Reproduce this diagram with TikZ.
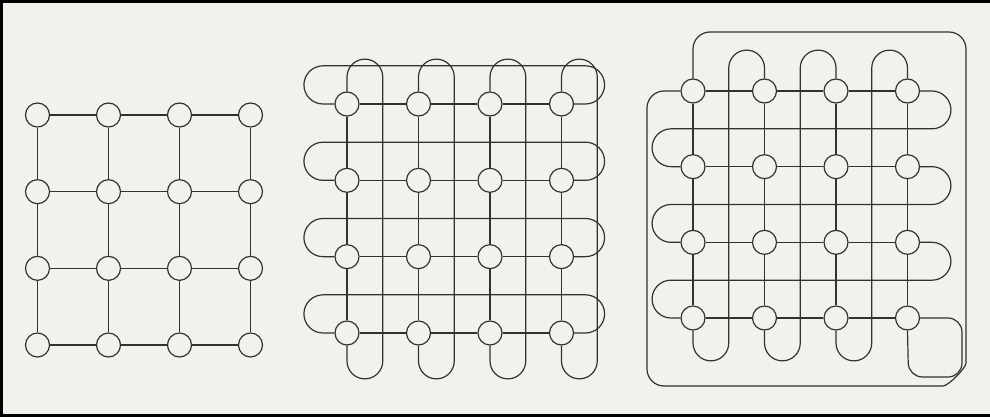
\documentclass[tikz,border=0pt]{standalone}
\definecolor{paper}{RGB}{243,241,238}
\definecolor{ink}{RGB}{50,50,50}
\tikzset{
  pe/.style={circle, draw=ink, fill=paper, line width=1.2pt, minimum size=24pt, inner sep=0pt},
  wire/.style={draw=ink, line width=1.2pt},
}
\begin{document}
\begin{tikzpicture}[x=1pt,y=-1pt]
\fill[paper] (0,0) rectangle (990,417);
\useasboundingbox (0,0) rectangle (990,417);
\draw[black, line width=3pt] (990,1.5) -- (1.5,1.5) -- (1.5,415.5) -- (990,415.5);

% ---------- mesh 1 : plain 4x4 mesh ----------
\foreach \r in {1,...,4} \foreach \c in {1,...,4}
  \node[pe] (a\r\c) at ({37.5+(\c-1)*71},{115+(\r-1)*76.67}) {};
\foreach \r in {1,...,4} \foreach \c/\d in {1/2,2/3,3/4} {
  \draw[wire] (a\r\c) -- (a\r\d);
  \draw[wire] (a\c\r) -- (a\d\r);
}

% ---------- mesh 2 : torus ----------
\foreach \r in {1,...,4} \foreach \c in {1,...,4}
  \node[pe] (b\r\c) at ({347+(\c-1)*71.5},{104+(\r-1)*76.33}) {};
\foreach \r in {1,...,4} \foreach \c/\d in {1/2,2/3,3/4} {
  \draw[wire] (b\r\c) -- (b\r\d);
  \draw[wire] (b\c\r) -- (b\d\r);
}
\foreach \c in {1,...,4} {
  \pgfmathsetmacro\X{347+(\c-1)*71.5}
  \draw[wire] (b1\c.north) -- (\X,77) arc[start angle=180,end angle=0,radius=17.875pt]
     -- ({\X+35.75},361) arc[start angle=0,end angle=-180,radius=17.875pt] -- (b4\c.south);
}
\foreach \r in {1,...,4} {
  \pgfmathsetmacro\Y{104+(\r-1)*76.33}
  \draw[wire] (b\r1.west) -- (323,\Y) arc[start angle=270,end angle=90,radius=19.08pt]
     -- (585.5,{\Y-38.17}) arc[start angle=90,end angle=-90,radius=19.08pt] -- (b\r4.east);
}

% ---------- mesh 3 : spiral (Illiac) ----------
\foreach \r in {1,...,4} \foreach \c in {1,...,4}
  \node[pe] (c\r\c) at ({693+(\c-1)*71.5},{91+(\r-1)*75.67}) {};
\foreach \r in {1,...,4} \foreach \c/\d in {1/2,2/3,3/4} {
  \draw[wire] (c\r\c) -- (c\r\d);
  \draw[wire] (c\c\r) -- (c\d\r);
}
\foreach \r [evaluate=\r as \s using int(\r+1)] in {1,2,3} {
  \pgfmathsetmacro\Y{91+(\r-1)*75.67}
  \draw[wire] (c\r4.east) -- (932,\Y) arc[start angle=90,end angle=-90,radius=18.92pt]
     -- (671,{\Y+37.83}) arc[start angle=90,end angle=270,radius=18.92pt] -- (c\s1.west);
}
\foreach \c [evaluate=\c as \d using int(\c+1)] in {1,2,3} {
  \pgfmathsetmacro\X{693+(\c-1)*71.5}
  \draw[wire] (c4\c.south) -- (\X,343) arc[start angle=180,end angle=360,radius=17.875pt]
     -- ({\X+35.75},68) arc[start angle=180,end angle=0,radius=17.875pt] -- (c1\d.north);
}
% outer loop: top of (1,1) round to left of (1,1)
\draw[wire, rounded corners=17pt] (c11.north) -- (693,32) -- (966,32) -- (966,346)
   arc[start angle=0,end angle=-90,radius=40pt] -- (647,386) -- (647,91) -- (c11.west);
% loop: right of (4,4) to bottom of (4,4)
\draw[wire, rounded corners=14pt] (c44.east) -- (962,318) -- (962,377) -- (908.5,377) -- (c44.south);
\end{tikzpicture}
\end{document}
